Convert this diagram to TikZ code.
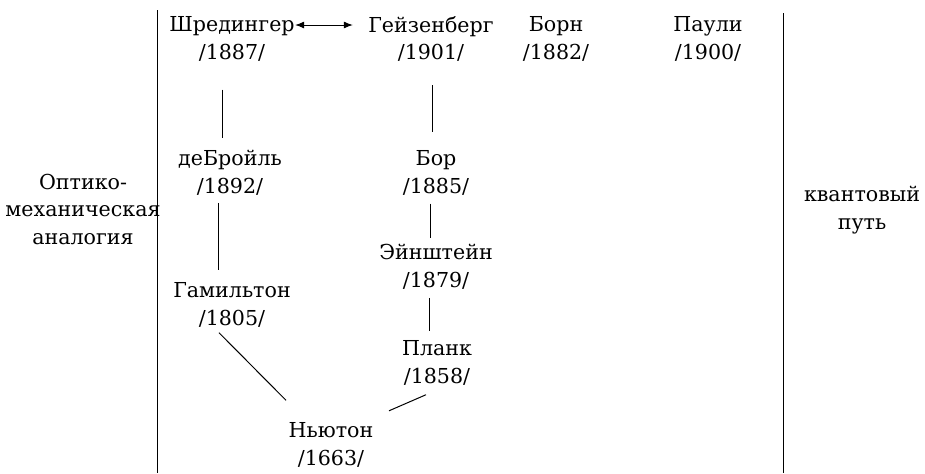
\documentclass[tikz,border=0pt]{standalone}
\usepackage{fontspec}
\setmainfont{DejaVu Serif}
\usetikzlibrary{arrows.meta}

\begin{document}
\begin{tikzpicture}[x=0.5pt, y=-0.5pt, >={Latex[length=4.5pt,width=3.5pt]}, line width=0.5pt,
    every node/.style={align=center, inner sep=0pt, font=\fontsize{10.3}{13.75}\selectfont}]
    \useasboundingbox (0,0) rectangle (925,473);

    % Dividers
    \draw (157,10) -- (157,473);
    \draw (783,13) -- (783,473);

    % Side labels
    \node (optic) at (83,209) {Оптико-\\механическая\\аналогия};
    \node (quant) at (862,210) {квантовый\\путь};

    % Physicists
    \node (schr) at (232,39) {Шредингер\\/1887/};
    \node (heis) at (431,39) {Гейзенберг\\/1901/};
    \node (born) at (556,39) {Борн\\/1882/};
    \node (pauli) at (708,39) {Паули\\/1900/};
    \node (broglie) at (230,173) {деБройль\\/1892/};
    \node (bohr) at (436,173) {Бор\\/1885/};
    \node (einst) at (436,267) {Эйнштейн\\/1879/};
    \node (hamil) at (232,305) {Гамильтон\\/1805/};
    \node (planck) at (437,363) {Планк\\/1858/};
    \node (newton) at (331,445) {Ньютон\\/1663/};

    % Links
    \draw[<->, shorten >=7.5pt] ([yshift=7pt]schr.east) -- ([yshift=7pt]heis.west);
    \draw[shorten <=14pt, shorten >=6pt] ([xshift=-5pt]schr.south) -- ([xshift=-4pt]broglie.north);
    \draw[shorten <=11.5pt, shorten >=9pt] ([xshift=0.5pt]heis.south) -- ([xshift=-2pt]bohr.north);
    \draw[shorten <=3.5pt, shorten >=6pt] ([xshift=-6pt]broglie.south) -- ([xshift=-7pt]hamil.north);
    \draw[shorten <=4pt, shorten >=3pt] ([xshift=-3pt]bohr.south) -- ([xshift=-3pt]einst.north);
    \draw[shorten <=4pt, shorten >=4.75pt] ([xshift=-3.5pt]einst.south) -- ([xshift=-4pt]planck.north);
    \draw ([shift={(-6.5pt,-2.5pt)}]hamil.south) -- ([shift={(-22.5pt,11pt)}]newton.north);
    \draw ([shift={(-5.5pt,-4.5pt)}]planck.south) -- ([shift={(29pt,5.75pt)}]newton.north);
\end{tikzpicture}
\end{document}
